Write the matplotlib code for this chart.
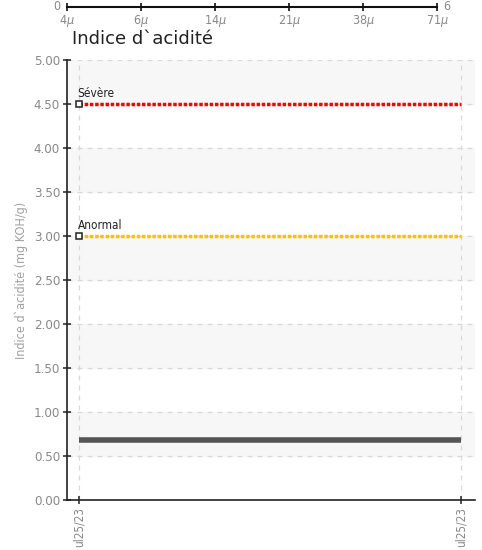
import numpy as np
import matplotlib.pyplot as plt

# data
dates = ['ul25/23', 'ul25/23']
acid_values = [0.68, 0.68]
limit_names = ['Sévère', 'Anormal']
limit_values = [4.5, 3.0]
limit_colors = ['#ff0000', '#ffc000']
scale_ticks = ['4$\\mu$', '6$\\mu$', '14$\\mu$', '21$\\mu$', '38$\\mu$', '71$\\mu$']
scale_ends = ['0', '6']

plt.rcParams['font.family'] = ['DejaVu Sans']
plt.rcParams['font.stretch'] = 'condensed'
plt.rcParams['mathtext.fontset'] = 'dejavusans'

fig = plt.figure(figsize=(4.82, 5.5), dpi=100)

# top scale strip
sx = fig.add_axes([67 / 482, 1 - 7 / 550, 370 / 482, 0.001])
sx.set_xlim(0, len(scale_ticks) - 1)
sx.set_ylim(0, 1)
for s in ['top', 'left', 'right']:
    sx.spines[s].set_visible(False)
sx.spines['bottom'].set_color('#111111')
sx.spines['bottom'].set_linewidth(1.5)
sx.set_yticks([])
sx.set_xticks(range(len(scale_ticks)))
sx.set_xticklabels(scale_ticks, color='#888888', fontsize=9)
sx.tick_params(axis='x', direction='inout', length=6, width=1.2, color='#111111', pad=1.5)
sx.annotate(scale_ends[0], (0, 0), xycoords=('data', 'axes fraction'), xytext=(-4.5, -2.5),
            textcoords='offset points', ha='right', va='baseline', fontsize=9, color='#888888')
sx.annotate(scale_ends[1], (len(scale_ticks) - 1, 0), xycoords=('data', 'axes fraction'),
            xytext=(4.5, -2.5), textcoords='offset points', ha='left', va='baseline', fontsize=9,
            color='#888888')

# main chart
ax = fig.add_axes([67 / 482, 50 / 550, 408 / 482, 440 / 550])
x = np.arange(len(dates))
ax.set_xlim(-12 / 382, 1 + 14 / 382)
ax.set_ylim(0, 5)

# alternating bands
for lo in np.arange(0.5, 5, 1.0):
    ax.axhspan(lo, lo + 0.5, color='#f7f7f7', zorder=0)

ax.set_yticks(np.arange(0, 5.01, 0.5))
ax.set_yticklabels(['%.2f' % v for v in np.arange(0, 5.01, 0.5)], fontsize=9.5, color='#888888')
ax.set_xticks(x)
ax.set_xticklabels(dates, rotation=90, fontsize=8.5, color='#888888')
ax.tick_params(axis='both', direction='inout', length=6, width=1.1, color='#222222', pad=2)
ax.grid(True, linestyle=(0, (4, 4)), color='#d8d8d8', linewidth=0.9)
ax.set_axisbelow(True)
for s in ['top', 'right']:
    ax.spines[s].set_visible(False)
for s in ['left', 'bottom']:
    ax.spines[s].set_color('#222222')
    ax.spines[s].set_linewidth(1.2)

ax.set_ylabel('Indice d`acidité (mg KOH/g)', fontsize=9, color='#a0a0a0', labelpad=4)

# limits
for name, val, col in zip(limit_names, limit_values, limit_colors):
    ax.plot(x, [val] * len(x), linestyle=(0, (1, 0.5)), color=col, linewidth=2.5, zorder=3)
    ax.plot([x[0]], [val], marker='s', markersize=4.5, markerfacecolor='white',
            markeredgecolor='#222222', markeredgewidth=1.1, linestyle='none', zorder=4)
    ax.annotate(name, (x[0], val), xytext=(-1, 3), textcoords='offset points',
                fontsize=8.5, color='#222222', ha='left', va='bottom')

# measured values
ax.plot(x, acid_values, color='#555555', linewidth=4, solid_capstyle='butt', zorder=3)

fig.text(72 / 482, 1 - 39 / 550, 'Indice d`acidité', fontsize=13, color='#222222',
         family='DejaVu Sans', stretch='normal', va='center', ha='left')

fig.savefig('out.png', dpi=100)
